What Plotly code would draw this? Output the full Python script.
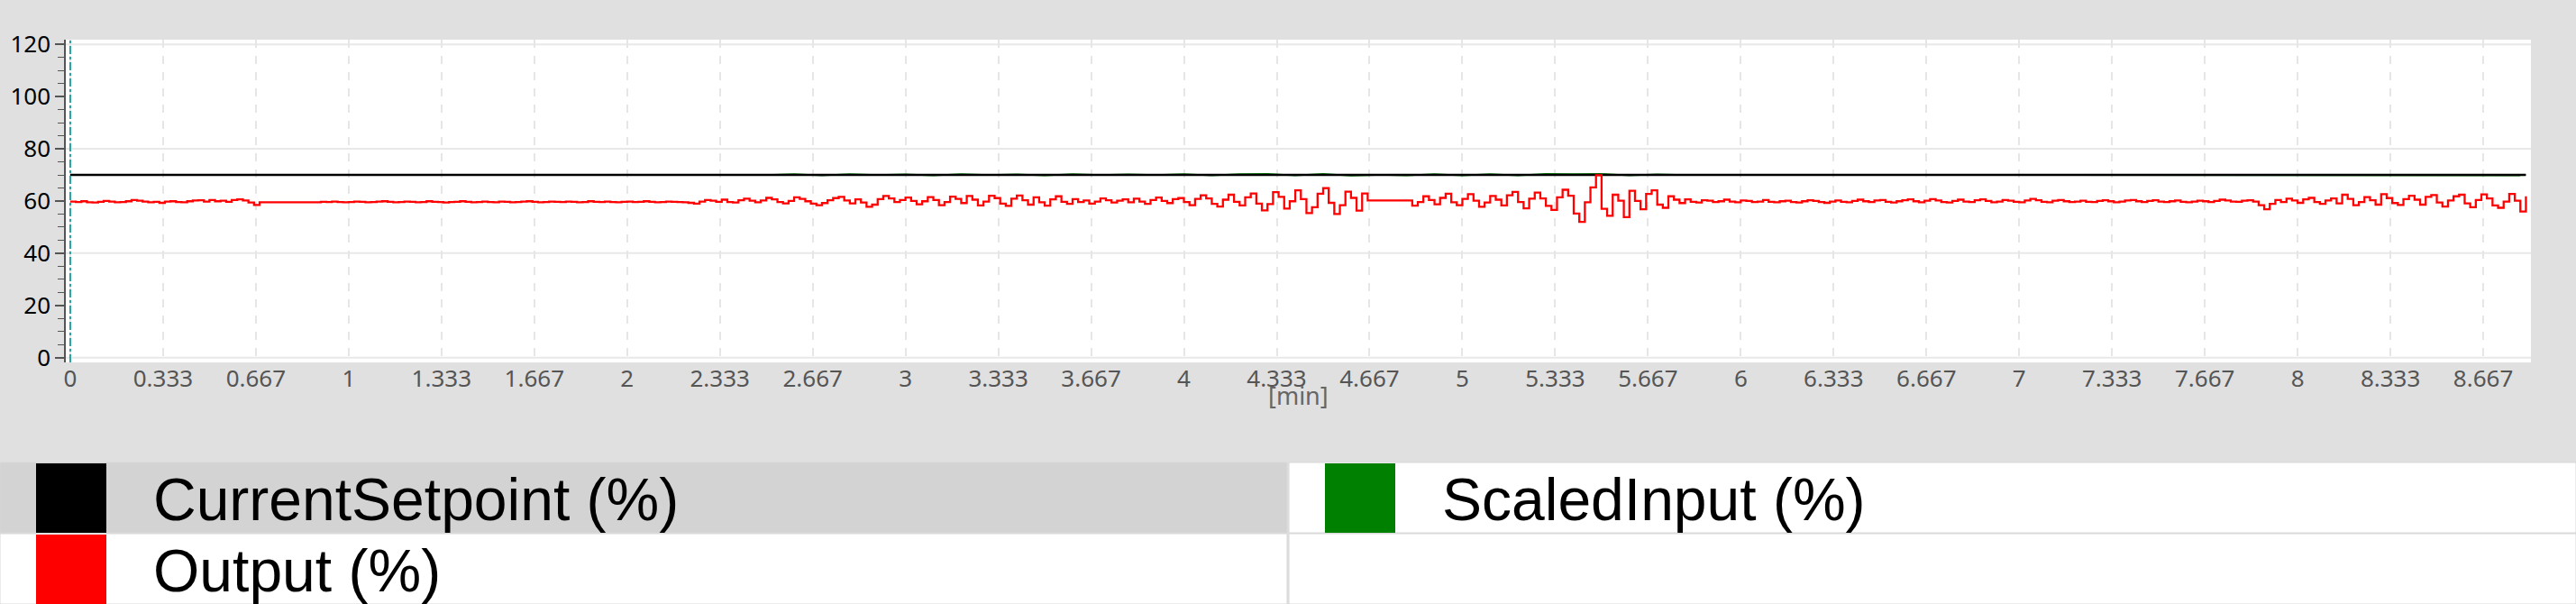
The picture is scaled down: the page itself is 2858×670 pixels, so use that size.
import plotly.graph_objects as go

# ---------------- data ----------------
sample_interval_min = 0.02

output_values = [
    59.8, 59.6, 59.9, 59.5, 59.4, 59.7, 60.0, 59.8, 59.5, 59.6,
    59.9, 60.4, 60.1, 59.8, 59.5, 59.7, 59.3, 59.8, 59.9, 59.6,
    59.5, 59.9, 60.2, 60.3, 59.8, 60.4, 59.9, 60.1, 59.7, 60.4,
    60.6, 60.2, 59.4, 58.5, 59.5, 59.5, 59.5, 59.5, 59.5, 59.5,
    59.5, 59.5, 59.5, 59.5, 59.5, 59.7, 59.6, 59.8, 59.6, 59.5,
    59.6, 59.8, 59.7, 59.5, 59.6, 59.8, 59.9, 59.7, 59.5, 59.6,
    59.8, 59.7, 59.5, 59.6, 59.9, 59.7, 59.6, 59.4, 59.6, 59.7,
    59.9, 59.7, 59.5, 59.6, 59.8, 59.6, 59.5, 59.8, 59.7, 59.5,
    59.6, 59.8, 59.9, 59.7, 59.5, 59.6, 59.8, 59.7, 59.6, 59.8,
    59.7, 59.5, 59.6, 59.9, 59.7, 59.6, 59.8, 59.6, 59.5, 59.7,
    59.8, 59.6, 59.7, 59.9, 59.7, 59.5, 59.6, 59.8, 59.7, 59.6,
    59.5, 59.3, 59.0, 59.8, 60.4, 60.1, 59.7, 60.5, 59.6, 59.4,
    60.3, 60.9, 60.1, 59.5, 60.2, 61.2, 60.6, 59.6, 59.1, 60.0,
    61.4, 60.8, 59.9, 59.0, 58.4, 59.2, 60.3, 61.1, 61.6, 60.2,
    59.1, 60.6, 59.4, 57.8, 58.6, 60.7, 61.9, 61.0, 59.6, 60.4,
    61.3, 60.0, 58.7, 59.9, 61.5, 60.4, 58.4, 59.6, 61.7, 60.8,
    59.2, 61.9, 60.5, 58.3, 59.8, 62.0, 61.1, 59.0, 58.1, 60.9,
    62.1, 60.3, 58.6, 61.4, 59.5, 58.2, 60.6, 61.8, 59.7, 58.9,
    60.7, 59.6, 60.2, 59.0, 59.8, 61.0, 60.3, 59.4, 60.1, 60.6,
    59.5, 60.9, 59.8, 58.9, 60.4, 61.3, 60.0, 59.2, 60.7, 61.1,
    59.6, 58.4, 60.8, 62.2, 61.0, 58.9, 57.9, 60.5, 62.4, 59.7,
    58.3, 61.4, 62.9, 59.0, 56.4, 58.8, 63.4, 61.6, 57.1, 59.9,
    64.1, 60.7, 55.4, 57.6, 62.8, 64.9, 59.3, 55.0, 58.4, 63.6,
    61.2, 56.3, 62.9, 60.2, 60.2, 60.2, 60.2, 60.2, 60.2, 60.2,
    60.2, 58.2, 59.6, 61.8, 60.4, 58.7, 61.2, 62.8, 59.5, 58.4,
    60.8, 62.6, 60.1, 57.8, 59.4, 61.9, 60.5, 58.3, 62.2, 63.5,
    59.6, 57.2, 60.9, 63.2, 61.0, 58.1, 56.6, 61.4, 64.3, 62.0,
    55.2, 52.0, 59.5, 65.2, 69.9, 57.0, 54.3, 62.4, 60.1, 53.8,
    63.9, 60.0, 56.8, 62.7, 64.1, 58.6, 57.4, 61.8, 60.5, 59.2,
    60.6, 59.7, 59.4, 60.3, 60.1, 59.6, 59.9, 60.5, 59.8, 59.5,
    60.2, 60.0, 59.6, 59.8, 60.4, 59.7, 59.5, 59.9, 60.1, 59.6,
    59.4, 59.9, 60.3, 60.0, 59.6, 59.3, 59.8, 60.2, 59.7, 59.5,
    60.0, 60.5, 59.9, 59.6, 60.2, 60.4, 59.7, 59.4, 59.9, 60.3,
    60.6, 59.9, 59.5, 60.1, 60.7, 60.2, 59.6, 59.4, 60.0, 60.5,
    59.8, 59.6, 60.3, 60.6, 60.0, 59.5, 59.8, 60.4, 60.1, 59.7,
    59.5, 60.2, 60.8, 60.3, 59.7, 59.5, 60.1, 60.4, 59.9, 59.6,
    59.8, 60.1, 59.7, 59.6, 60.0, 60.3, 59.9, 59.5, 59.8, 60.2,
    60.4, 59.9, 59.6, 60.0, 60.3, 59.8, 59.6, 59.9, 60.2, 59.7,
    59.5, 59.8, 60.1, 59.9, 59.6, 60.0, 60.5, 60.2, 59.8, 59.7,
    60.1, 60.3, 59.8, 58.4, 56.8, 58.9, 60.4, 59.6, 60.9, 60.2,
    59.3, 60.6, 61.2, 59.6, 58.9, 60.2, 61.0, 59.1, 62.4, 60.8,
    58.4, 59.6, 61.5, 60.3, 58.6, 62.6, 61.1, 59.2, 58.5, 60.7,
    62.0, 60.5, 58.6, 61.6, 62.3, 59.4, 57.9, 60.2, 61.8, 62.4,
    59.1, 57.6, 60.4, 62.5, 61.0, 58.3, 57.4, 59.8, 62.7, 60.1,
    56.0, 61.8,
]
output_time = [round(i * sample_interval_min, 3) for i in range(len(output_values))]

scaled_interval_min = 0.1
scaled_input_values = [
    70.0, 70.0, 70.0, 70.0, 70.0, 70.0, 70.0, 70.0, 70.0, 70.0,
    70.0, 70.0, 70.0, 70.0, 70.0, 70.0, 70.0, 70.0, 70.0, 70.0,
    70.0, 70.0, 70.0, 70.0, 70.2, 70.0, 70.3, 69.8, 70.3, 70.0,
    70.2, 69.8, 70.3, 70.0, 70.2, 69.8, 70.3, 70.0, 70.2, 70.0,
    70.3, 69.8, 70.3, 70.4, 69.8, 70.4, 69.7, 70.0, 69.8, 70.3,
    69.8, 70.3, 69.8, 70.4, 70.3, 70.4, 69.8, 70.2, 70.0, 70.0,
    70.0, 70.0, 70.0, 70.0, 70.0, 70.0, 70.0, 70.0, 70.0, 70.0,
    70.0, 70.0, 70.0, 70.0, 70.0, 70.0, 70.0, 70.0, 70.0, 70.0,
    70.0, 70.0, 69.8, 70.0, 69.8, 70.0, 69.8, 70.0, 69.8,
]
scaled_input_time = [round(i * scaled_interval_min, 3) for i in range(len(scaled_input_values))]

setpoint_time = [0.0, 8.82]
setpoint_values = [70.0, 70.0]

series_names = ["CurrentSetpoint (%)", "ScaledInput (%)", "Output (%)"]
series_colors = ["#000000", "#008000", "#ff0000"]

x_tick_labels = ["0", "0.333", "0.667", "1", "1.333", "1.667", "2", "2.333", "2.667",
                 "3", "3.333", "3.667", "4", "4.333", "4.667", "5", "5.333", "5.667",
                 "6", "6.333", "6.667", "7", "7.333", "7.667", "8", "8.333", "8.667"]
x_tick_values = [i / 3 for i in range(len(x_tick_labels))]
y_tick_values = [0, 20, 40, 60, 80, 100, 120]
y_grid_values = [0, 40, 80, 120]
x_axis_title = "[min]"
cursor_time = 0.0

# ---------------- layout geometry (pixels) ----------------
W, H = 2858, 670
PL, PR, PT, PB = 73, 2808, 44, 402   # plot area


def px_x(px):
    return (px - PL) / (PR - PL)


def px_y(py):
    return (PB - py) / (PB - PT)


fig = go.Figure()

fig.add_trace(go.Scatter(x=scaled_input_time, y=scaled_input_values, mode="lines",
                         line=dict(color=series_colors[1], width=1.6), name=series_names[1],
                         hoverinfo="skip"))
fig.add_trace(go.Scatter(x=setpoint_time, y=setpoint_values, mode="lines",
                         line=dict(color=series_colors[0], width=2.6), name=series_names[0]))
fig.add_trace(go.Scatter(x=output_time, y=output_values, mode="lines",
                         line=dict(color=series_colors[2], width=2.3, shape="hv"),
                         name=series_names[2]))
# cursor marker
fig.add_trace(go.Scatter(x=[cursor_time], y=[122.9], mode="markers", cliponaxis=False,
                         marker=dict(symbol="triangle-down-open", size=11, color="#22a3a3",
                                     line=dict(width=1.5, color="#22a3a3")),
                         hoverinfo="skip"))

shapes = []
for g in y_grid_values:
    shapes.append(dict(type="line", xref="paper", yref="y", x0=0, x1=1, y0=g, y1=g,
                       line=dict(color="#e8e8e8", width=2), layer="below"))
shapes.append(dict(type="line", xref="x", yref="paper", x0=cursor_time, x1=cursor_time,
                   y0=0, y1=1, line=dict(color="#22a3a3", width=2, dash="dashdot")))

# legend table below chart
row_tops = [513, 592]
row_h = 78
col_lefts = [0, 1430]
col_w = 1428
annotations = []
for r in range(2):
    for c in range(2):
        x0, x1 = col_lefts[c], col_lefts[c] + col_w
        y0, y1 = row_tops[r], row_tops[r] + row_h
        fill = "#d3d3d3" if (r == 0 and c == 0) else "#ffffff"
        shapes.append(dict(type="rect", xref="paper", yref="paper",
                           x0=px_x(x0), x1=px_x(x1), y0=px_y(y1), y1=px_y(y0),
                           fillcolor=fill, line=dict(color="#d8d8d8", width=1)))
for k, (name, color) in enumerate(zip(series_names, series_colors)):
    r, c = k // 2, k % 2
    cx = col_lefts[c]
    ry = row_tops[r]
    shapes.append(dict(type="rect", xref="paper", yref="paper",
                       x0=px_x(cx + 40), x1=px_x(cx + 118),
                       y0=px_y(ry + row_h), y1=px_y(ry + 1),
                       fillcolor=color, line=dict(width=0)))
    annotations.append(dict(text=name, xref="paper", yref="paper",
                            x=px_x(cx + 168), y=px_y(ry + 41), xanchor="left", yanchor="middle",
                            showarrow=False,
                            font=dict(family="Liberation Sans, Arial", size=66, color="#000000")))

annotations.append(dict(text=x_axis_title, xref="paper", yref="paper", x=0.5, y=px_y(438),
                        xanchor="center", yanchor="middle", showarrow=False,
                        font=dict(family="Noto Sans", size=27, color="#666666")))

fig.update_layout(
    width=W, height=H, autosize=False,
    margin=dict(l=PL, r=W - PR, t=PT, b=H - PB, pad=0),
    paper_bgcolor="#e0e0e0", plot_bgcolor="#ffffff",
    showlegend=False,
    shapes=shapes, annotations=annotations,
    xaxis=dict(range=[-0.016, 8.838], tickmode="array", tickvals=x_tick_values,
               ticktext=x_tick_labels, showgrid=True, gridcolor="#e6e6e6", griddash="dash",
               gridwidth=1.5, zeroline=False, showline=False, ticks="",
               tickfont=dict(family="Noto Sans", size=26, color="#555555")),
    yaxis=dict(range=[-1.83, 121.8], tickmode="array", tickvals=y_tick_values,
               showgrid=False, zeroline=False, showline=True, linecolor="#555555",
               linewidth=1.5, ticks="outside", ticklen=10, tickcolor="#555555", tickwidth=1.5,
               minor=dict(dtick=5, ticks="outside", ticklen=7, tickcolor="#555555",
                          tickwidth=1.2, showgrid=False),
               tickfont=dict(family="Noto Sans", size=26, color="#000000")),
)

fig.write_html("out.html", config={"displayModeBar": False},
               post_script="document.body.style.margin='0';document.body.style.overflow='hidden';")
